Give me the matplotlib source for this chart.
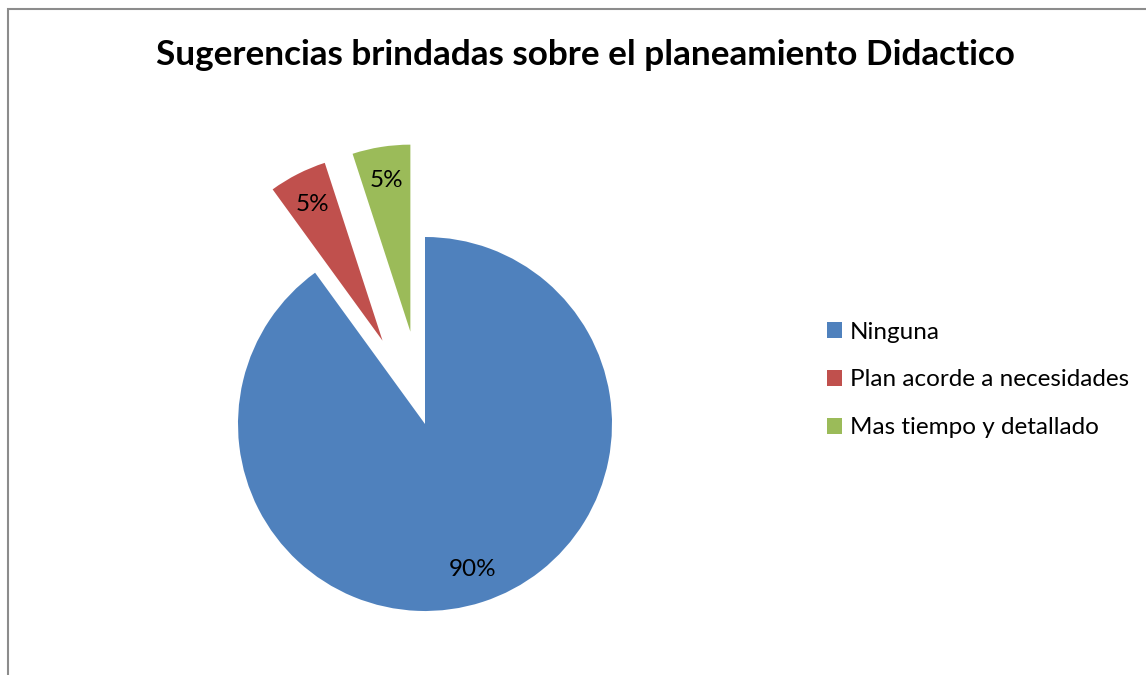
import matplotlib.pyplot as plt
from matplotlib.patches import Patch, Rectangle

plt.rcParams['font.family'] = ['Lato', 'DejaVu Sans']

title = "Sugerencias brindadas sobre el planeamiento Didactico"
labels = ["Ninguna", "Plan acorde a necesidades", "Mas tiempo y detallado"]
values = [90, 5, 5]
colors = ["#4F81BD", "#C0504D", "#9BBB59"]
explode = [0, 0.5, 0.5]

W, H = 1146, 675
cx, cy, r = 425, 424, 187  # pie centre / radius in pixels

fig = plt.figure(figsize=(W / 100, H / 100), dpi=100)
ax = fig.add_axes([0, 0, 1, 1])

wedges, texts, autotexts = ax.pie(values, colors=colors, explode=explode,
                                  startangle=90, counterclock=False,
                                  autopct='%d%%', pctdistance=0.82,
                                  wedgeprops=dict(linewidth=0))
for t in autotexts:
    t.set_fontsize(17.5)
    t.set_color('black')

ax.set_xlim(-cx / r, (W - cx) / r)
ax.set_ylim(-(H - cy) / r, cy / r)
ax.set_aspect('equal')
ax.axis('off')

fig.text(585 / W, 1 - 55 / H, title, ha='center', va='center',
         fontsize=25.3, fontweight='bold')

handles = [Patch(facecolor=c, edgecolor='none') for c in colors]
fig.legend(handles, labels, loc='center left',
           bbox_to_anchor=(805 / W, 1 - 380 / H), frameon=False,
           fontsize=17.5, handlelength=0.62, handleheight=0.62,
           handletextpad=0.33, labelspacing=1.1)

# chart area border (only top and left edges visible)
fig.add_artist(Rectangle((8 / W, -0.1), 1.2, 1 - 9 / H + 0.1,
                         transform=fig.transFigure, fill=False,
                         edgecolor='#8c8c8c', linewidth=1.5))

fig.savefig('out.png', dpi=100)
